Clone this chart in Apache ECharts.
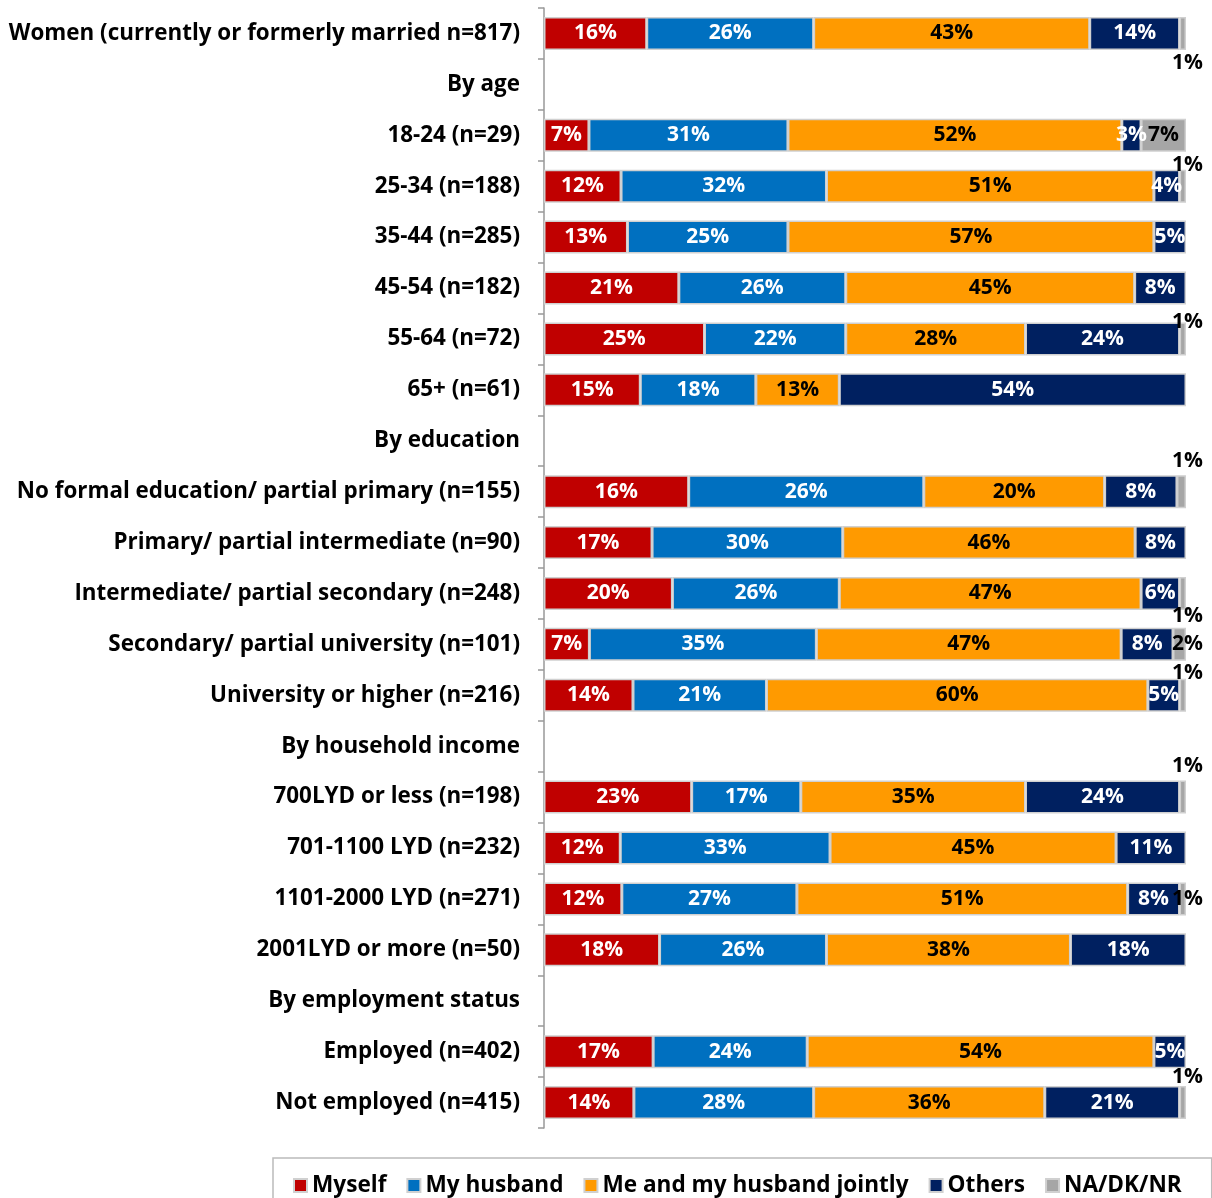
<!DOCTYPE html>
<html>
<head>
<meta charset="utf-8">
<script src="https://cdn.jsdelivr.net/npm/echarts@6/dist/echarts.min.js"></script>
<style>html,body{margin:0;padding:0;background:#fff}#c{width:1212px;height:1198px}</style>
</head>
<body>
<div id="c"></div>
<script>
const categories = [
  'Women (currently or formerly married n=817)',
  'By age',
  '18-24 (n=29)',
  '25-34 (n=188)',
  '35-44 (n=285)',
  '45-54 (n=182)',
  '55-64 (n=72)',
  '65+ (n=61)',
  'By education',
  'No formal education/ partial primary (n=155)',
  'Primary/ partial intermediate (n=90)',
  'Intermediate/ partial secondary (n=248)',
  'Secondary/ partial university (n=101)',
  'University or higher (n=216)',
  'By household income',
  '700LYD or less (n=198)',
  '701-1100 LYD (n=232)',
  '1101-2000 LYD (n=271)',
  '2001LYD or more (n=50)',
  'By employment status',
  'Employed (n=402)',
  'Not employed (n=415)'
];
const seriesNames = ['Myself', 'My husband', 'Me and my husband jointly', 'Others', 'NA/DK/NR'];
const myself  = [16, null, 7, 12, 13, 21, 25, 15, null, 16, 17, 20, 7, 14, null, 23, 12, 12, 18, null, 17, 14];
const husband = [26, null, 31, 32, 25, 26, 22, 18, null, 26, 30, 26, 35, 21, null, 17, 33, 27, 26, null, 24, 28];
const jointly = [43, null, 52, 51, 57, 45, 28, 13, null, 20, 46, 47, 47, 60, null, 35, 45, 51, 38, null, 54, 36];
const others  = [14, null, 3, 4, 5, 8, 24, 54, null, 8, 8, 6, 8, 5, null, 24, 11, 8, 18, null, 5, 21];
const na      = [1, null, 7, 1, 0, 0, 1, 0, null, 1, 0, 1, 2, 1, null, 1, 0, 1, 0, null, 0, 1];

const colors = ['#C00000', '#0070C0', '#FF9A00', '#002060', '#A6A6A6'];
const labelColors = ['#fff', '#fff', '#000', '#fff', '#000'];
const FONT = 'Open Sans';

// vertical shift of the small NA labels placed outside the bar end
const naShift = {0: 30, 3: -21, 6: -17, 9: -31, 11: 23, 12: 0, 13: -22, 15: -31, 17: 0, 21: -26};

const all = [myself, husband, jointly, others, na];
const sums = categories.map((_, i) => all.reduce((s, arr) => s + (arr[i] || 0), 0));

const series = all.map((arr, si) => ({
  name: seriesNames[si],
  type: 'bar',
  stack: 'total',
  barWidth: 33,
  itemStyle: { color: colors[si], borderColor: '#D0D0D0', borderWidth: 1.5 },
  label: {
    show: true,
    position: 'inside',
    color: labelColors[si],
    fontFamily: FONT,
    fontWeight: 'bold',
    fontSize: 21,
    formatter: p => (p.data && p.data.raw ? p.data.raw + '%' : '')
  },
  data: arr.map((v, i) => {
    if (v === null || v === 0) return { value: null, raw: 0 };
    const item = { value: v / sums[i] * 100, raw: v };
    if (si === 4 && naShift[i] !== undefined && v <= 2) {
      item.label = { position: 'right', distance: 0, offset: [-14, naShift[i]], color: '#000' };
    }
    return item;
  })
}));

const chart = echarts.init(document.getElementById('c'));
chart.setOption({
  animation: false,
  backgroundColor: '#fff',
  grid: { left: 544, right: 26, top: 8, bottom: 70, containLabel: false },
  xAxis: { type: 'value', min: 0, max: 100, show: false },
  yAxis: {
    type: 'category',
    inverse: true,
    data: categories,
    axisLine: { show: true, lineStyle: { color: '#999', width: 1.5 } },
    axisTick: { show: true, length: 6, lineStyle: { color: '#999', width: 1.5 } },
    axisLabel: { margin: 24, color: '#000', fontFamily: FONT, fontWeight: 'bold', fontSize: 22.4 }
  },
  legend: {
    left: 273,
    top: 1158,
    borderColor: '#BBB',
    borderWidth: 1.5,
    padding: [16, 30, 20, 20],
    itemWidth: 13,
    itemHeight: 13,
    itemGap: 20,
    icon: 'rect',
    textStyle: { color: '#000', fontFamily: FONT, fontWeight: 'bold', fontSize: 22.6 },
    data: seriesNames
  },
  series
});
</script>
</body>
</html>
